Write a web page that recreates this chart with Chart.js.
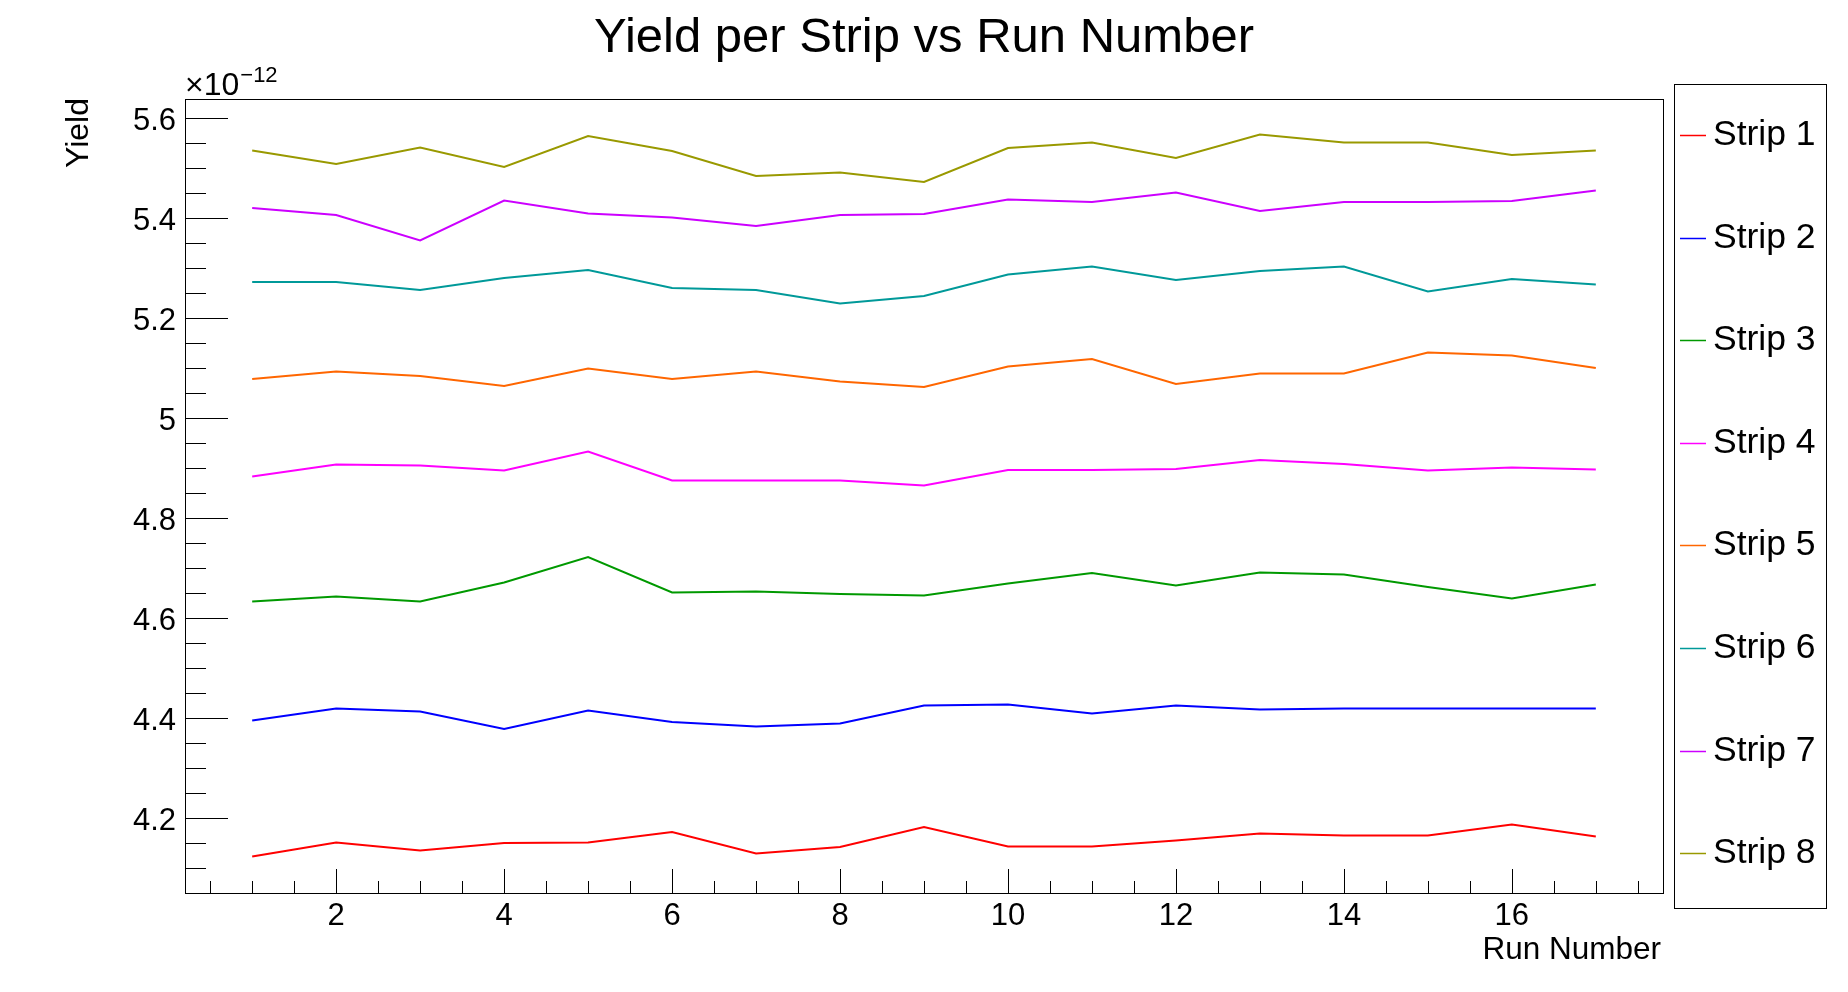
<!DOCTYPE html>
<html>
<head>
<meta charset="utf-8">
<title>Yield per Strip vs Run Number</title>
<script src="https://cdn.jsdelivr.net/npm/chart.js@4.4.1/dist/chart.umd.min.js"></script>
<style>
  html, body { margin: 0; padding: 0; background: #ffffff; }
  #wrap { width: 1848px; height: 992px; }
</style>
</head>
<body>
<div id="wrap"><canvas id="yieldChart" width="1848" height="992"></canvas></div>
<script>
// data (yield values in units of 1e-12)
const runNumbers = [1, 2, 3, 4, 5, 6, 7, 8, 9, 10, 11, 12, 13, 14, 15, 16, 17];
const stripNames = ["Strip 1", "Strip 2", "Strip 3", "Strip 4", "Strip 5", "Strip 6", "Strip 7", "Strip 8"];
const stripColors = ["#ff0000", "#0000ff", "#009900", "#ff00ff", "#ff6600", "#009999", "#cc00ff", "#999900"];

const strip1 = [4.123, 4.151, 4.135, 4.150, 4.151, 4.172, 4.129, 4.142, 4.182, 4.143, 4.143, 4.155, 4.169, 4.165, 4.165, 4.187, 4.163];
const strip2 = [4.395, 4.419, 4.413, 4.378, 4.415, 4.392, 4.383, 4.389, 4.425, 4.427, 4.409, 4.425, 4.417, 4.419, 4.419, 4.419, 4.419];
const strip3 = [4.633, 4.643, 4.633, 4.671, 4.722, 4.651, 4.653, 4.648, 4.645, 4.669, 4.690, 4.665, 4.691, 4.687, 4.662, 4.639, 4.667];
const strip4 = [4.883, 4.907, 4.905, 4.895, 4.933, 4.875, 4.875, 4.875, 4.865, 4.896, 4.896, 4.898, 4.916, 4.908, 4.895, 4.901, 4.897];
const strip5 = [5.078, 5.093, 5.084, 5.064, 5.099, 5.078, 5.093, 5.073, 5.062, 5.103, 5.118, 5.068, 5.089, 5.089, 5.131, 5.125, 5.100];
const strip6 = [5.272, 5.272, 5.256, 5.280, 5.296, 5.260, 5.256, 5.229, 5.244, 5.287, 5.303, 5.276, 5.294, 5.303, 5.253, 5.278, 5.267];
const strip7 = [5.420, 5.406, 5.355, 5.435, 5.409, 5.401, 5.384, 5.406, 5.408, 5.437, 5.432, 5.451, 5.414, 5.432, 5.432, 5.434, 5.455];
const strip8 = [5.535, 5.508, 5.541, 5.502, 5.564, 5.534, 5.484, 5.491, 5.472, 5.540, 5.551, 5.520, 5.567, 5.551, 5.551, 5.526, 5.535];

const stripValues = [strip1, strip2, strip3, strip4, strip5, strip6, strip7, strip8];

// axis ranges / ticks
const xMin = 0.2, xMax = 17.8, xMajorStep = 2, xMinorStep = 0.5;
const yMin = 4.05, yMax = 5.638, yMajorStep = 0.2, yMinorStep = 0.05;
const yExponent = "\u221212";

const FONT = '"Liberation Sans", Arial, Helvetica, sans-serif';

// ===============================
// ROOT style frame, ticks, texts, legend
// ===============================
const rootStyle = {
    id: "rootStyle",
    afterDraw(chart) {
        const ctx = chart.ctx;
        const a = chart.chartArea;
        const xs = chart.scales.x;
        const ys = chart.scales.y;

        ctx.save();
        ctx.strokeStyle = "#000000";
        ctx.lineWidth = 1;

        // frame
        ctx.strokeRect(Math.round(a.left) + 0.5, Math.round(a.top) + 0.5,
            Math.round(a.right - a.left), Math.round(a.bottom - a.top));

        ctx.beginPath();
        // y ticks (inside, left side)
        ys.ticks.forEach(t => {
            const y = Math.round(ys.getPixelForValue(t.value)) + 0.5;
            ctx.moveTo(a.left, y);
            ctx.lineTo(a.left + 43, y);
        });
        for (let k = Math.ceil(ys.min / yMinorStep - 1e-6); k * yMinorStep <= ys.max + 1e-9; k++) {
            const y = Math.round(ys.getPixelForValue(k * yMinorStep)) + 0.5;
            ctx.moveTo(a.left, y);
            ctx.lineTo(a.left + 21, y);
        }
        // x ticks (inside, bottom)
        xs.ticks.forEach(t => {
            const x = Math.round(xs.getPixelForValue(t.value)) + 0.5;
            ctx.moveTo(x, a.bottom);
            ctx.lineTo(x, a.bottom - 24);
        });
        for (let k = Math.ceil(xs.min / xMinorStep - 1e-6); k * xMinorStep <= xs.max + 1e-9; k++) {
            const x = Math.round(xs.getPixelForValue(k * xMinorStep)) + 0.5;
            ctx.moveTo(x, a.bottom);
            ctx.lineTo(x, a.bottom - 12);
        }
        ctx.stroke();

        ctx.fillStyle = "#000000";

        // title
        ctx.font = "49px " + FONT;
        ctx.textAlign = "center";
        ctx.textBaseline = "alphabetic";
        ctx.fillText("Yield per Strip vs Run Number", 924, 52);

        // exponent
        ctx.textAlign = "left";
        ctx.font = "32px " + FONT;
        ctx.fillText("\u00d710", a.left, 95);
        const w = ctx.measureText("\u00d710").width;
        ctx.font = "22px " + FONT;
        ctx.fillText(yExponent, a.left + w + 1, 82);

        // axis titles
        ctx.font = "31.5px " + FONT;
        ctx.textAlign = "right";
        ctx.fillText("Run Number", a.right - 2, 959);

        ctx.save();
        ctx.font = "32px " + FONT;
        ctx.translate(88, a.top - 1);
        ctx.rotate(-Math.PI / 2);
        ctx.textAlign = "right";
        ctx.fillText("Yield", 0, 0);
        ctx.restore();

        // legend
        const lx = 1674, ly = 84, lw = 152, lh = 824;
        ctx.strokeRect(lx + 0.5, ly + 0.5, lw, lh);
        ctx.font = "35.5px " + FONT;
        ctx.textAlign = "left";
        chart.data.datasets.forEach((ds, i) => {
            const yy = 135 + i * 102.6;
            ctx.strokeStyle = ds.borderColor;
            ctx.lineWidth = 1.5;
            ctx.beginPath();
            ctx.moveTo(lx + 6, Math.round(yy) + 0.5);
            ctx.lineTo(lx + 32, Math.round(yy) + 0.5);
            ctx.stroke();
            ctx.fillText(ds.label, lx + 39, yy + 10);
        });

        ctx.restore();
    }
};

const datasets = stripNames.map((name, i) => ({
    label: name,
    data: runNumbers.map((r, j) => ({ x: r, y: stripValues[i][j] })),
    borderColor: stripColors[i],
    backgroundColor: stripColors[i],
    borderWidth: 2,
    pointRadius: 0,
    tension: 0,
    fill: false
}));

new Chart(document.getElementById("yieldChart"), {
    type: "line",
    data: { datasets: datasets },
    options: {
        responsive: false,
        animation: false,
        events: [],
        layout: { padding: { top: 99, right: 185, left: 0, bottom: 0 } },
        plugins: {
            legend: { display: false },
            title: { display: false },
            tooltip: { enabled: false }
        },
        scales: {
            x: {
                type: "linear",
                min: xMin,
                max: xMax,
                grid: { display: false, tickLength: 0 },
                border: { display: false },
                ticks: {
                    stepSize: xMajorStep,
                    includeBounds: false,
                    maxRotation: 0,
                    padding: 5,
                    color: "#000000",
                    font: { family: FONT, size: 31 }
                },
                afterFit: s => { s.height = 99; }
            },
            y: {
                type: "linear",
                min: yMin,
                max: yMax,
                grid: { display: false, tickLength: 0 },
                border: { display: false },
                ticks: {
                    stepSize: yMajorStep,
                    includeBounds: false,
                    padding: 9,
                    labelOffset: 3,
                    color: "#000000",
                    font: { family: FONT, size: 31 },
                    callback: v => String(Number(v.toFixed(1)))
                },
                afterFit: s => { s.width = 185; }
            }
        }
    },
    plugins: [rootStyle]
});
</script>
</body>
</html>
